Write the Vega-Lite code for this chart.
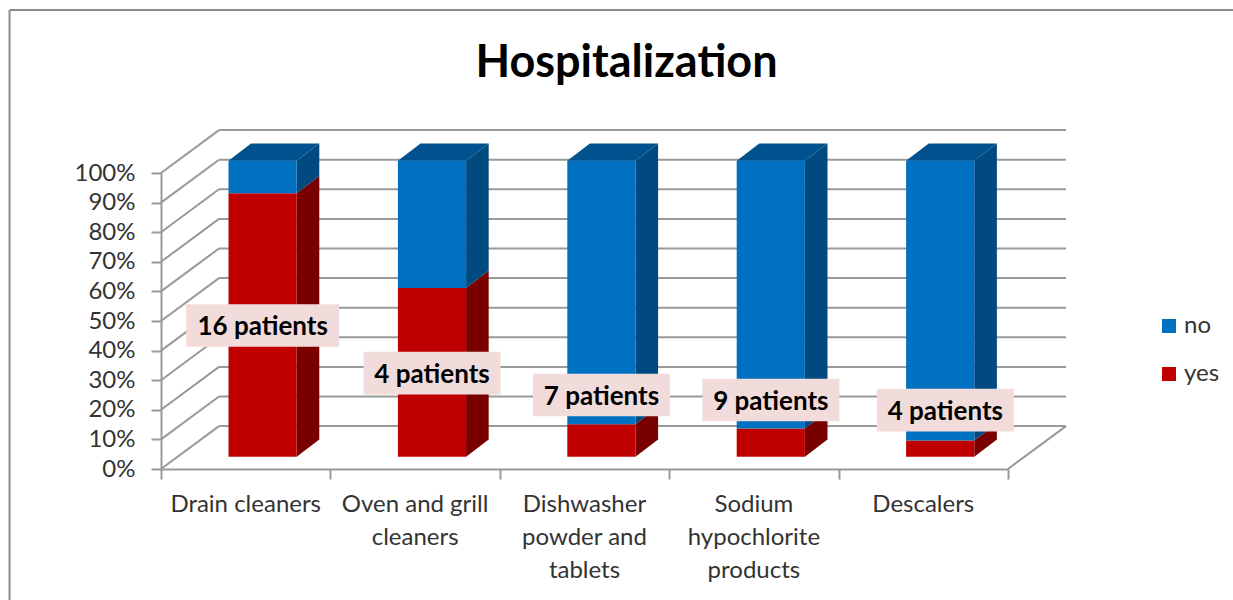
{
"$schema":"https://vega.github.io/schema/vega-lite/v6.json",
"width":847,"height":296,
"autosize":{"type":"none"},
"padding":{"left":161,"top":173,"right":225,"bottom":131},
"background":"white",
"config":{"view":{"stroke":null},"font":"Lato"},
"title":{"text":"Hospitalization","font":"Lato","fontSize":45,"fontWeight":"bold","color":"#000000","anchor":"middle","frame":"group","dx":42,"offset":-77},
"datasets":{
"segments":[
{"i":0,"category":"Drain cleaners","series":"yes","low":0,"high":89},
{"i":0,"category":"Drain cleaners","series":"no","low":89,"high":100},
{"i":1,"category":"Oven and grill cleaners","series":"yes","low":0,"high":57},
{"i":1,"category":"Oven and grill cleaners","series":"no","low":57,"high":100},
{"i":2,"category":"Dishwasher powder and tablets","series":"yes","low":0,"high":11},
{"i":2,"category":"Dishwasher powder and tablets","series":"no","low":11,"high":100},
{"i":3,"category":"Sodium hypochlorite products","series":"yes","low":0,"high":9.5},
{"i":3,"category":"Sodium hypochlorite products","series":"no","low":9.5,"high":100},
{"i":4,"category":"Descalers","series":"yes","low":0,"high":5.5},
{"i":4,"category":"Descalers","series":"no","low":5.5,"high":100}
],
"cats":[
{"i":0,"name":"Drain cleaners","patients":"16 patients","labelAt":48.5},
{"i":1,"name":"Oven and grill\ncleaners","patients":"4 patients","labelAt":32.4},
{"i":2,"name":"Dishwasher\npowder and\ntablets","patients":"7 patients","labelAt":25},
{"i":3,"name":"Sodium\nhypochlorite\nproducts","patients":"9 patients","labelAt":23.3},
{"i":4,"name":"Descalers","patients":"4 patients","labelAt":19.9}
],
"ticks":[{"pct":0},{"pct":10},{"pct":20},{"pct":30},{"pct":40},{"pct":50},{"pct":60},{"pct":70},{"pct":80},{"pct":90},{"pct":100}],
"frame":[{"edge":"left"},{"edge":"top"}]
},
"encoding":{
"x":{"field":"px","type":"quantitative","scale":{"domain":[0,5],"nice":false,"zero":false},
"axis":{"title":null,"values":[0,1,2,3,4,5],"labels":false,"grid":false,"tickSize":10,"tickColor":"#999999","tickWidth":2,"domainColor":"#999999","domainWidth":2}},
"y":{"field":"py","type":"quantitative","scale":{"domain":[0,100],"nice":false,"zero":false},
"axis":{"title":null,"values":[0,10,20,30,40,50,60,70,80,90,100],"labelExpr":"datum.value+'%'","grid":false,"tickSize":10,"tickColor":"#999999","tickWidth":2,"domainColor":"#999999","domainWidth":2,"labelFont":"Lato","labelFontSize":24,"labelColor":"#333333","labelPadding":16,"labelBaseline":"middle"}}
},
"layer":[
{"data":{"name":"ticks"},
"transform":[{"calculate":"0","as":"px"},{"calculate":"0.3424","as":"px2"},{"calculate":"datum.pct","as":"py"},{"calculate":"datum.pct+14.5","as":"py2"}],
"mark":{"type":"rule","color":"#999999","strokeWidth":2},
"encoding":{"x2":{"field":"px2"},"y2":{"field":"py2"}}},
{"data":{"name":"ticks"},
"transform":[{"calculate":"0.3424","as":"px"},{"calculate":"5.3424","as":"px2"},{"calculate":"datum.pct+14.5","as":"py"}],
"mark":{"type":"rule","color":"#999999","strokeWidth":2},
"encoding":{"x2":{"field":"px2"}}},
{"data":{"name":"ticks"},
"transform":[{"filter":"datum.pct==0"},{"calculate":"5","as":"px"},{"calculate":"5.3424","as":"px2"},{"calculate":"0","as":"py"},{"calculate":"14.5","as":"py2"}],
"mark":{"type":"rule","color":"#999999","strokeWidth":2},
"encoding":{"x2":{"field":"px2"},"y2":{"field":"py2"}}},
{"data":{"name":"segments"},
"transform":[{"calculate":"[0,1]","as":"k"},{"flatten":["k"]},{"calculate":"datum.i+0.801+0.1334*datum.k","as":"px"},{"calculate":"datum.low+4.15+5.83*datum.k","as":"py"},{"calculate":"datum.high+4.15+5.83*datum.k","as":"py2"}],
"mark":{"type":"area","line":false},
"encoding":{"y2":{"field":"py2"},"detail":{"field":"i"},"color":{"field":"series","type":"nominal","scale":{"domain":["no","yes"],"range":["#004A7F","#7A0000"]},"legend":null}}},
{"data":{"name":"segments"},
"transform":[{"filter":"datum.series=='no'"},{"calculate":"[0,1]","as":"k"},{"flatten":["k"]},{"calculate":"datum.i+0.3985+0.1334*datum.k","as":"px"},{"calculate":"datum.i+0.801+0.1334*datum.k","as":"px2"},{"calculate":"datum.high+4.15+5.83*datum.k","as":"py"}],
"mark":{"type":"area","orient":"horizontal","line":false,"color":"#00528F"},
"encoding":{"x2":{"field":"px2"},"detail":{"field":"i"}}},
{"data":{"name":"segments"},
"transform":[{"calculate":"datum.i+0.3985","as":"px"},{"calculate":"datum.i+0.801","as":"px2"},{"calculate":"datum.low+4.15","as":"py"},{"calculate":"datum.high+4.15","as":"py2"}],
"mark":{"type":"rect"},
"encoding":{"x2":{"field":"px2"},"y2":{"field":"py2"},
"color":{"field":"series","type":"nominal","scale":{"domain":["no","yes"],"range":["#0070C0","#C00000"]},
"legend":{"title":null,"orient":"none","legendX":996,"legendY":141,"symbolType":"square","symbolSize":196,"symbolStrokeWidth":0,"labelFont":"Lato","labelFontSize":24,"labelColor":"#333333","rowPadding":24,"labelOffset":3,"padding":0}}}},
{"data":{"name":"cats"},
"transform":[{"calculate":"datum.i+0.5","as":"px"},{"calculate":"0","as":"py"}],
"mark":{"type":"text","align":"center","baseline":"top","dy":24,"font":"Lato","fontSize":24,"lineHeight":33,"lineBreak":"\n","color":"#333333"},
"encoding":{"text":{"field":"name"}}},
{"data":{"name":"cats"},
"transform":[{"calculate":"length(datum.patients)>10?0.4516:0.4044","as":"hw"},{"calculate":"datum.i+0.6+(datum.i==4?0.03:0)-datum.hw","as":"px"},{"calculate":"datum.i+0.6+(datum.i==4?0.03:0)+datum.hw","as":"px2"},{"calculate":"datum.labelAt-7.2","as":"py"},{"calculate":"datum.labelAt+7.2","as":"py2"}],
"mark":{"type":"rect","color":"#F2DCDB"},
"encoding":{"x2":{"field":"px2"},"y2":{"field":"py2"}}},
{"data":{"name":"cats"},
"transform":[{"calculate":"datum.i+0.6+(datum.i==4?0.03:0)","as":"px"},{"calculate":"datum.labelAt","as":"py"}],
"mark":{"type":"text","align":"center","baseline":"middle","dy":2,"font":"Lato","fontSize":26,"fontWeight":"bold","color":"#000000"},
"encoding":{"text":{"field":"patients"}}},
{"data":{"name":"frame"},
"transform":[{"calculate":"-0.894","as":"px"},{"calculate":"datum.edge=='left'?-0.894:6.4","as":"px2"},{"calculate":"155.1","as":"py"},{"calculate":"datum.edge=='left'?-44.5:155.1","as":"py2"}],
"mark":{"type":"rule","color":"#8A8A8A","strokeWidth":2},
"encoding":{"x2":{"field":"px2"},"y2":{"field":"py2"}}}
],
"resolve":{"scale":{"color":"independent"}}
}
